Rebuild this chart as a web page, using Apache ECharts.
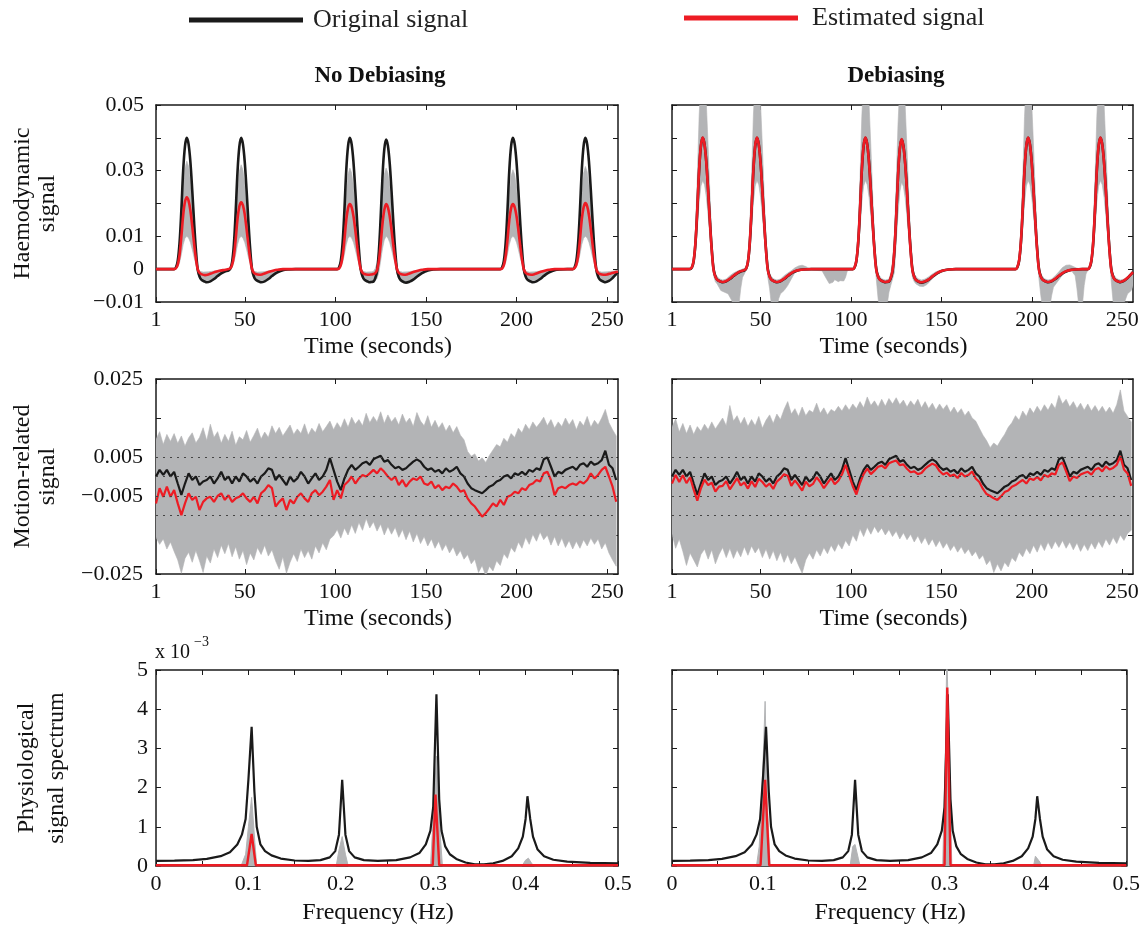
<!DOCTYPE html>
<html><head><meta charset="utf-8">
<script src="https://cdn.jsdelivr.net/npm/echarts@6/dist/echarts.min.js"></script>
<style>html,body{margin:0;padding:0;background:#fff}#c{width:1143px;height:928px}</style>
</head><body><div id="c"></div>
<script>
// ---------- tick labels ----------
const timeTicks = [1, 50, 100, 150, 200, 250];
const timeTickLabels = ['1', '50', '100', '150', '200', '250'];
const haemoYTicks = [-10, 0, 10, 20, 30, 40, 50];            // x 1e-3
const haemoYLabelValues = [-10, 0, 10, 30, 50];
const haemoYLabels = ['\u22120.01', '0', '0.01', '0.03', '0.05'];
const motionYTicks = [-25, -15, -5, 5, 15, 25];              // x 1e-3
const motionYLabelValues = [-25, -5, 5, 25];
const motionYLabels = ['\u22120.025', '\u22120.005', '0.005', '0.025'];
const motionGridLines = [5, 0, -5, -10];
const freqTicks = [0, 0.05, 0.1, 0.15, 0.2, 0.25, 0.3, 0.35, 0.4, 0.45, 0.5];
const freqLabelValues = [0, 0.1, 0.2, 0.3, 0.4, 0.5];
const freqLabels = ['0', '0.1', '0.2', '0.3', '0.4', '0.5'];
const spectrumYTicks = [0, 1, 2, 3, 4, 5];                   // x 1e-3
const spectrumYLabels = ['0', '1', '2', '3', '4', '5'];

// ---------- haemodynamic signal (x 1e-3), [time, value] ----------
const haemoOriginal = [[1,0],[11,0],[12,0.5],[13,2.5],[14,8],[15,18],[16,30],[17,37.5],[18,40],[19,38],[20,32.5],[21,24],[22,14.5],[23,6],[24,0],[25,-2.2],[26,-3.2],[28,-3.8],[29,-4],[31,-3.7],[33,-3],[35,-2.1],[37,-1.3],[39,-0.7],[41,-0.4],[42,0.1],[43,2.1],[44,7.6],[45,17.7],[46,29.7],[47,37.3],[48,40],[49,38],[50,32.5],[51,24],[52,14.5],[53,6],[54,0],[55,-2.2],[56,-3.2],[58,-3.8],[59,-4],[61,-3.7],[63,-3],[65,-2.1],[67,-1.3],[69,-0.7],[71,-0.3],[74,-0.1],[78,0],[101,0],[102,0.5],[103,2.5],[104,8],[105,18],[106,30],[107,37.5],[108,40],[109,38],[110,32.5],[111,24],[112,14.5],[113,6],[114,0],[115,-2.2],[116,-3.2],[118,-3.8],[119,-4],[120,-3.9],[121,-3.8],[122,-2.8],[123,-0.6],[124,5.3],[125,15.7],[126,28],[127,36.5],[128,39.5],[129,37.6],[130,32.2],[131,23.8],[132,14.3],[133,5.9],[134,-0.1],[135,-2.3],[136,-3.3],[138,-4],[139,-4.1],[141,-3.8],[143,-3.2],[145,-2.3],[147,-1.5],[149,-0.9],[151,-0.4],[154,-0.1],[158,0],[191,0],[192,0.5],[193,2.5],[194,8],[195,18],[196,30],[197,37.5],[198,40],[199,38],[200,32.5],[201,24],[202,14.5],[203,6],[204,0],[205,-2.2],[206,-3.2],[208,-3.8],[209,-4],[211,-3.7],[213,-3],[215,-2.1],[217,-1.3],[219,-0.7],[221,-0.3],[224,-0.1],[228,0],[231,0],[232,0.5],[233,2.5],[234,8],[235,18],[236,30],[237,37.5],[238,40],[239,38],[240,32.5],[241,24],[242,14.5],[243,6],[244,0],[245,-2.2],[246,-3.2],[248,-3.8],[249,-4],[251,-3.6],[253,-2.7],[255,-1.5],[256,-0.9]];
const haemoEstLeft = [[1,0],[11,0],[12,0.3],[13,1.4],[14,4.4],[15,9.9],[16,16.4],[17,20.5],[18,21.9],[19,20.8],[20,17.8],[21,13.1],[22,7.9],[23,3.3],[24,0],[25,-1.1],[26,-1.5],[28,-1.8],[30,-1.6],[32,-1.2],[34,-0.8],[36,-0.5],[38,-0.3],[40,-0.1],[42,0.3],[43,1.3],[44,4.1],[45,9.2],[46,15.3],[47,19.1],[48,20.4],[49,19.4],[50,16.6],[51,12.2],[52,7.4],[53,3.1],[54,0],[55,-1.1],[56,-1.5],[58,-1.7],[60,-1.5],[62,-1.1],[64,-0.7],[66,-0.4],[68,-0.2],[71,0],[101,0],[102,0.2],[103,1.2],[104,4],[105,8.9],[106,14.9],[107,18.6],[108,19.8],[109,18.8],[110,16.1],[111,11.9],[112,7.2],[113,3],[114,0],[115,-1.1],[116,-1.5],[118,-1.7],[120,-1.6],[121,-1.5],[122,-1.2],[123,-0.3],[124,2.5],[125,7.6],[126,13.8],[127,18],[128,19.8],[129,18.8],[130,16.1],[131,11.9],[132,7.2],[133,3],[134,0],[135,-1.1],[136,-1.5],[138,-1.7],[140,-1.5],[142,-1.1],[144,-0.7],[146,-0.4],[148,-0.2],[151,0],[191,0],[192,0.2],[193,1.2],[194,4],[195,8.9],[196,14.9],[197,18.6],[198,19.8],[199,18.8],[200,16.1],[201,11.9],[202,7.2],[203,3],[204,0],[205,-1.1],[206,-1.5],[208,-1.7],[210,-1.5],[212,-1.1],[214,-0.7],[216,-0.4],[218,-0.2],[221,0],[231,0],[232,0.3],[233,1.3],[234,4],[235,9],[236,15.1],[237,18.8],[238,20.1],[239,19.1],[240,16.3],[241,12.1],[242,7.3],[243,3],[244,0],[245,-1.1],[246,-1.5],[248,-1.7],[250,-1.6],[252,-1.3],[254,-1],[256,-0.8]];
const haemoUpperLeft = [[1,0.1],[11,0.1],[12,0.4],[13,2.1],[14,6.6],[15,14.8],[16,24.7],[17,30.8],[18,32.9],[19,31.3],[20,26.7],[21,19.7],[22,11.9],[23,4.9],[24,0.2],[25,-0.6],[27,-0.9],[30,-0.8],[34,-0.5],[38,-0.2],[41,0],[42,0.4],[43,2],[44,6.4],[45,14.3],[46,23.9],[47,29.8],[48,31.8],[49,30.2],[50,25.8],[51,19.1],[52,11.5],[53,4.8],[54,0.2],[55,-0.6],[57,-0.9],[60,-0.8],[64,-0.5],[68,-0.2],[72,0.1],[101,0.1],[102,0.4],[103,1.9],[104,6.2],[105,13.9],[106,23.1],[107,28.9],[108,30.8],[109,29.3],[110,25],[111,18.5],[112,11.2],[113,4.6],[114,0.2],[115,-0.6],[117,-0.9],[120,-0.8],[121,-0.7],[122,0.2],[123,1.9],[124,6.2],[125,13.9],[126,23.1],[127,28.9],[128,30.8],[129,29.3],[130,25],[131,18.5],[132,11.2],[133,4.6],[134,0.2],[135,-0.6],[137,-0.9],[140,-0.8],[144,-0.5],[148,-0.2],[152,0.1],[191,0.1],[192,0.4],[193,1.9],[194,6.1],[195,13.6],[196,22.7],[197,28.4],[198,30.3],[199,28.8],[200,24.6],[201,18.2],[202,11],[203,4.5],[204,0.2],[205,-0.6],[207,-0.9],[210,-0.8],[214,-0.5],[218,-0.2],[222,0.1],[231,0.1],[232,0.4],[233,2],[234,6.3],[235,14.1],[236,23.5],[237,29.3],[238,31.3],[239,29.7],[240,25.4],[241,18.8],[242,11.3],[243,4.7],[244,0.2],[245,-0.6],[247,-0.9],[250,-0.8],[253,-0.6],[256,-0.3]];
const haemoLowerLeft = [[1,-0.1],[11,-0.1],[12,0.1],[13,0.6],[14,2],[15,4.5],[16,7.5],[17,9.4],[18,10],[19,9.5],[20,8.1],[21,6],[22,3.6],[23,1.5],[24,-1.5],[25,-2.8],[27,-3.6],[29,-3.6],[31,-3.3],[33,-2.7],[35,-2],[37,-1.3],[39,-0.8],[41,-0.4],[42,0],[43,0.6],[44,2],[45,4.5],[46,7.5],[47,9.4],[48,10],[49,9.5],[50,8.1],[51,6],[52,3.6],[53,1.5],[54,-1.5],[55,-2.8],[57,-3.6],[59,-3.6],[61,-3.3],[63,-2.7],[65,-2],[67,-1.3],[69,-0.8],[72,-0.3],[76,-0.1],[101,-0.1],[102,0.1],[103,0.6],[104,2],[105,4.5],[106,7.5],[107,9.4],[108,10],[109,9.5],[110,8.1],[111,6],[112,3.6],[113,1.5],[114,-1.5],[115,-2.8],[117,-3.6],[119,-3.7],[121,-3.6],[122,-3.4],[123,-2.8],[124,-1],[125,2.5],[126,6.2],[127,8.9],[128,10],[129,9.5],[130,8.1],[131,6],[132,3.6],[133,1.5],[134,-1.5],[135,-2.8],[137,-3.7],[139,-3.8],[141,-3.5],[143,-2.9],[145,-2.2],[147,-1.5],[149,-0.9],[152,-0.4],[156,-0.1],[191,-0.1],[192,0.1],[193,0.6],[194,2],[195,4.5],[196,7.5],[197,9.4],[198,10],[199,9.5],[200,8.1],[201,6],[202,3.6],[203,1.5],[204,-1.5],[205,-2.8],[207,-3.6],[209,-3.6],[211,-3.3],[213,-2.7],[215,-2],[217,-1.3],[219,-0.8],[222,-0.3],[226,-0.1],[231,-0.1],[232,0.1],[233,0.6],[234,2],[235,4.5],[236,7.5],[237,9.4],[238,10],[239,9.5],[240,8.1],[241,6],[242,3.6],[243,1.5],[244,-1.5],[245,-2.8],[247,-3.6],[249,-3.6],[251,-3.3],[253,-2.6],[256,-1.4]];
const haemoEstRight = [[1,0],[10,0],[11,0.1],[12,0.6],[13,2.7],[14,8.4],[15,18.5],[16,30.4],[17,37.7],[18,40.1],[19,37.9],[20,32.2],[21,23.6],[22,14],[23,5.6],[24,-0.3],[25,-2.3],[26,-3.2],[28,-3.8],[29,-3.9],[31,-3.6],[33,-2.9],[35,-2],[37,-1.2],[39,-0.6],[41,-0.3],[42,0.2],[43,2.3],[44,8],[45,18.2],[46,30.1],[47,37.6],[48,40.1],[49,37.9],[50,32.2],[51,23.6],[52,14],[53,5.6],[54,-0.3],[55,-2.3],[56,-3.2],[58,-3.8],[59,-3.9],[61,-3.6],[63,-2.9],[65,-2],[67,-1.2],[69,-0.6],[71,-0.3],[74,-0.1],[78,0],[101,0],[102,0.6],[103,2.7],[104,8.4],[105,18.5],[106,30.4],[107,37.7],[108,40.1],[109,37.9],[110,32.2],[111,23.6],[112,14],[113,5.6],[114,-0.3],[115,-2.3],[116,-3.2],[118,-3.8],[119,-3.9],[120,-3.8],[121,-3.7],[122,-2.6],[123,-0.3],[124,5.7],[125,16.1],[126,28.3],[127,36.6],[128,39.6],[129,37.4],[130,31.8],[131,23.3],[132,13.8],[133,5.4],[134,-0.4],[135,-2.4],[136,-3.3],[138,-3.9],[139,-4],[141,-3.7],[143,-3.1],[145,-2.2],[147,-1.4],[149,-0.8],[151,-0.4],[154,-0.1],[158,0],[191,0],[192,0.6],[193,2.7],[194,8.4],[195,18.5],[196,30.4],[197,37.7],[198,40.1],[199,37.9],[200,32.2],[201,23.6],[202,14],[203,5.6],[204,-0.3],[205,-2.3],[206,-3.2],[208,-3.8],[209,-3.9],[211,-3.6],[213,-2.9],[215,-2],[217,-1.2],[219,-0.6],[221,-0.3],[224,-0.1],[228,0],[231,0],[232,0.6],[233,2.7],[234,8.4],[235,18.5],[236,30.4],[237,37.7],[238,40.1],[239,37.9],[240,32.2],[241,23.6],[242,14],[243,5.6],[244,-0.3],[245,-2.3],[246,-3.2],[248,-3.8],[249,-3.9],[251,-3.5],[253,-2.6],[255,-1.5],[256,-0.9]];
const haemoUpperRight = [[1,0.1],[11,0.1],[12,0.8],[13,3.9],[14,12.4],[15,27.9],[16,46.5],[17,58.1],[18,62],[19,58.9],[20,50.4],[21,37.2],[22,22.5],[23,9.3],[24,1.5],[25,-1.5],[27,-2.9],[29,-3.3],[31,-3],[33,-2],[35,-1.2],[37,-0.6],[39,-0.2],[41,0.3],[42,0.8],[43,3.9],[44,12.4],[45,27.9],[46,46.5],[47,58.1],[48,62],[49,58.9],[50,50.4],[51,37.2],[52,22.5],[53,9.3],[54,1.5],[55,-1.5],[57,-2.9],[59,-3.3],[61,-3],[63,-2],[65,-1.2],[67,-0.5],[69,0.4],[71,1],[73,1.2],[75,0.8],[77,0.2],[80,0.1],[101,0.1],[102,0.8],[103,3.9],[104,12.4],[105,27.9],[106,46.5],[107,58.1],[108,62],[109,58.9],[110,50.4],[111,37.2],[112,22.5],[113,9.3],[114,1.5],[115,-1.5],[117,-2.9],[119,-3.3],[121,-3],[122,-1.2],[123,2.5],[124,10.5],[125,25.5],[126,44],[127,56],[128,61],[129,58],[130,49.5],[131,36.5],[132,22],[133,9],[134,1.2],[135,-1.5],[137,-2.9],[139,-3.3],[141,-3],[143,-2.3],[145,-1.5],[147,-0.8],[150,-0.2],[155,0.1],[191,0.1],[192,0.8],[193,3.9],[194,12.4],[195,27.9],[196,46.5],[197,58.1],[198,62],[199,58.9],[200,50.4],[201,37.2],[202,22.5],[203,9.3],[204,1.5],[205,-1.5],[207,-2.9],[209,-3.3],[211,-3],[213,-2],[215,-0.8],[217,0.5],[219,1.2],[221,1.3],[223,0.8],[225,0.3],[228,0.1],[231,0.1],[232,0.8],[233,3.9],[234,12.4],[235,27.9],[236,46.5],[237,58.1],[238,62],[239,58.9],[240,50.4],[241,37.2],[242,22.5],[243,9.3],[244,1.5],[245,-1.5],[247,-2.9],[249,-3.3],[251,-3],[253,-2.3],[255,-1.6],[256,-1.2]];
const haemoLowerRight = [[1,-0.1],[11,-0.1],[12,0.3],[13,1.7],[14,5.4],[15,12.2],[16,20.3],[17,25.3],[18,27],[19,25.7],[20,21.9],[21,16.2],[22,9.8],[23,4],[24,-2],[25,-3.8],[26,-4.5],[27,-5.5],[28,-6.5],[30,-7],[32,-7.5],[34,-9.5],[35,-11],[36,-13],[37,-13],[38,-11],[39,-6],[40,-2.5],[41,-1.5],[42,-0.3],[43,1.7],[44,5.4],[45,12.2],[46,20.3],[47,25.3],[48,27],[49,25.7],[50,21.9],[51,16.2],[52,9.8],[53,4],[54,-2.5],[55,-6],[56,-11],[57,-14],[58,-14],[59,-12],[60,-9],[61,-7.5],[63,-6.5],[65,-5],[67,-3],[69,-1],[71,-0.3],[74,-0.1],[84,-0.5],[86,-2.5],[88,-4.4],[90,-4],[91,-3.2],[93,-3.8],[94,-3.5],[96,-3.6],[97,-2.5],[98,-0.5],[100,-0.1],[101,-0.1],[102,0.3],[103,1.7],[104,5.4],[105,12.2],[106,20.3],[107,25.3],[108,27],[109,25.7],[110,21.9],[111,16.2],[112,9.8],[113,4],[114,-3],[115,-9],[116,-12.5],[117,-14],[118,-14],[119,-13],[120,-11],[121,-7],[122,-5],[123,-3],[124,-1],[125,8],[126,16.5],[127,23.5],[128,26.5],[129,25.2],[130,21.5],[131,15.8],[132,9.4],[133,3.6],[134,-2.5],[135,-3.8],[136,-4.5],[138,-5.2],[140,-5.3],[142,-4.7],[144,-3.5],[146,-2.4],[148,-1.5],[150,-0.8],[153,-0.3],[157,-0.1],[191,-0.1],[192,0.3],[193,1.7],[194,5.4],[195,12.2],[196,20.3],[197,25.3],[198,27],[199,25.7],[200,21.9],[201,16.2],[202,9.8],[203,4],[204,-3],[205,-8],[206,-12],[207,-14],[208,-14],[209,-13],[210,-11.5],[211,-8],[212,-5.5],[214,-4],[216,-2.5],[218,-1.2],[220,-0.6],[222,-0.5],[224,-2],[225,-6],[226,-11],[227,-13],[228,-11],[229,-5],[230,-1.5],[231,-0.3],[232,0.3],[233,1.7],[234,5.4],[235,12.2],[236,20.3],[237,25.3],[238,27],[239,25.7],[240,21.9],[241,16.2],[242,9.8],[243,4],[244,-4],[245,-10],[246,-13],[247,-14],[248,-14],[249,-13.5],[250,-12],[251,-10.5],[252,-9],[253,-7.5],[254,-7],[255,-6.5],[256,-5]];

// ---------- motion-related signal (x 1e-3), sampled at t = 1,3,...,255 ----------
const motionTime = Array.from({length: 128}, (_, i) => 1 + 2 * i);
const motionOriginal = [0,1.7,0.4,1.7,0,1.2,-1.8,-4.7,-1.8,0.8,-0.9,0,-2.2,-1.3,-0.9,0,-1.8,-0.5,1.2,-0.9,0,-1.8,0,-1.3,0.8,0,-1.3,-0.5,-1.8,0,0.8,2.1,1.7,-0.9,0.4,-0.9,-2.2,0,-1.3,-0.5,1.2,0,-1.8,-0.5,0.8,-0.9,0,1.7,4.7,1.7,-1.3,-3.5,-0.5,1.7,3,1.7,2.5,3.4,3.8,3,4.4,4.9,5.3,3.8,4.2,3,2.1,2.5,1.7,2.1,3,3.8,4.4,3.8,2.5,1.7,2.1,1.2,1.7,0.8,2.1,1.2,1.7,2.5,0.8,0,-1.8,-3,-3.5,-3.9,-4.3,-3.5,-2.6,-2.2,-1.3,-0.9,0,0.4,-0.5,0.8,0.4,1.2,0.4,1.7,1.2,2.1,1.7,4.4,4.9,2.5,0,1.2,0.8,1.7,2.1,2.5,1.7,3,3.4,2.5,3.8,3,3.4,4.2,6.6,3,2.1,-0.9];
const motionEstLeft = [-6.9,-3,-5.2,-2.6,-5.2,-3.5,-6.9,-9.9,-6.9,-4.3,-6,-5.2,-8.6,-6.5,-5.6,-5.2,-6.5,-5,-4.3,-6,-4.8,-6.5,-5.6,-5.2,-4.3,-5.6,-6.5,-5.2,-6.9,-4.3,-3.5,-2.2,-3,-7.7,-6.5,-5.6,-8.6,-6,-6.9,-5.2,-4.3,-5.6,-6.5,-4.3,-3.5,-4.8,-3.9,-2.6,-0.9,-6,-3.5,-5.6,-2.2,-1.3,0,-1.8,-0.5,0.4,0,0.8,1.7,0.8,2.1,1.2,0,-0.9,0,-2.2,-0.9,-2.6,-1.3,-0.5,-0.9,0,-1.8,-2.2,-1.3,-3,-2.2,-3.5,-2.6,-3,-1.8,-2.6,-3.9,-3.5,-5.6,-6.9,-7.7,-9,-10.3,-9.4,-8.2,-6.9,-7.7,-6,-7.3,-5.2,-4.8,-3.9,-4.3,-3,-3.5,-2.2,-1.8,-0.9,-1.3,0.8,1.2,-0.9,-4.8,-3,-2.6,-3,-2.2,-1.8,-2.2,-1.3,-1.8,-0.9,0.8,-0.5,0.4,1.7,2.5,0,-2.6,-6.5];
const motionEstRight = [-1.8,0.4,-1.4,0.3,-1.7,-0.2,-3.4,-6.2,-3,-0.8,-2.2,-1.6,-3.9,-2.6,-2.4,-1.2,-3.3,-1.9,-0.4,-2.3,-1.5,-3.1,-1.2,-2.7,-0.6,-1.4,-2.6,-1.8,-3.2,-1.3,-0.5,0.6,0.2,-2.4,-1,-2.2,-3.6,-1.3,-2.5,-1.9,-0.2,-1.4,-3,-1.7,-0.4,-2,-1.1,0.5,3,0.2,-2.5,-4.6,-1.6,0.6,2,0.6,1.5,2.5,2.8,2.1,3.4,3.8,4.1,2.9,3.1,2,1.1,1.3,0.6,0.9,2,2.7,3.3,2.8,1.4,0.5,1,0.1,0.5,-0.4,0.9,0,0.4,1.3,-0.5,-1.4,-3.2,-4.5,-5,-5.6,-6,-5.1,-4,-3.6,-2.6,-2.2,-1.5,-0.9,-1.8,-0.5,-0.9,-0.1,-1,0.4,-0.1,0.8,0.5,3,3.6,1.3,-1.2,0,-0.4,0.5,0.9,1.2,0.5,1.8,2.2,1.3,2.6,1.8,2.2,3,5.2,1.8,0.8,-2.4];
const motionUpperLeft = [9.5,11.5,8.2,10.8,9,11,8.5,10.4,7.8,9.9,11.2,8.6,10,12.5,9.2,13.4,10,11.5,8.5,10.8,9,11.6,8,10.2,9.4,11.8,8.8,10.5,12.4,9.6,11.4,10,13,11,12.6,10.4,11.8,13.2,10.8,12.2,11,13.5,10.6,12.4,11.2,13.6,11.5,12.8,14.2,12,13.8,12.4,14.8,12.6,15.2,13.4,14.6,13,16.2,13.8,15.4,14,16.6,13.6,15.8,14,15.2,13.2,16,13.8,15,12.8,16.4,14.2,13,15.6,12.6,14.4,12.4,13.8,11.6,13.2,11.2,12.8,10.6,9.4,6.4,5.2,5.8,4,4.8,3.6,5.4,6.8,8.2,7.6,9.8,8.8,11,10,12.4,11.2,13.4,12,14,12.6,13.8,15.2,13,14.6,12.4,14,12.8,15,13.2,14.6,12,14.2,13,15.4,12.6,14.4,13.2,15,17.2,13.8,12,10.4];
const motionLowerLeft = [-15.6,-17.4,-16,-18.6,-16.8,-19.2,-21.4,-24.8,-21,-19.4,-22,-19,-21.6,-24.6,-20.4,-22.2,-18.6,-20.8,-17.6,-19.8,-17.2,-20.6,-18,-21.2,-19,-22.6,-19.6,-21.4,-18.2,-20,-17.6,-20.4,-18.8,-21.6,-23.8,-20.6,-24.8,-22,-19.8,-21.8,-18.6,-20.8,-19,-21.2,-17.8,-19.6,-17,-18.8,-16,-15.2,-13.6,-15.8,-13.2,-15,-12.4,-14.6,-11.8,-13.8,-10.8,-13.2,-11.6,-14,-12.2,-15,-12.8,-14.8,-13,-15.6,-13.6,-16.2,-14,-16.8,-14.6,-17.2,-15.4,-17.8,-16,-18.4,-16.6,-19,-17.4,-19.6,-18,-20.4,-19,-21.2,-20,-22.4,-21.2,-24.6,-22.8,-25.5,-23,-24.2,-21.6,-22.8,-19.8,-21,-18.2,-19.4,-16.8,-18.4,-15.6,-17.4,-14.8,-16.6,-14.2,-16.2,-15,-17.6,-15.4,-17.8,-15.8,-18.2,-16.4,-18.6,-16.6,-18.4,-16.2,-17.8,-15.8,-17.4,-16,-18.6,-17,-19.6,-21.4,-23];
const motionUpperRight = [12.6,14.8,11.4,13.6,11,13.2,10.8,12.8,11.6,13.4,12,14,12.2,13.6,15,13,18.2,14.2,15.6,13.4,15.2,12.8,14.6,13,15.4,12.4,14.4,15.8,13.6,16,14.6,17.2,19.2,16,17.4,15.4,17.8,15.6,17,16.4,18.8,16.2,17.6,15.8,17.2,16.6,18,16.8,18.4,17,18.6,17.4,19.2,17.6,20.4,18.2,19.4,17.8,19.8,18,20,18.6,20.2,18.4,19.6,17.8,19.4,18.2,19.8,17.6,19.2,17.4,18.8,17,18.6,17.2,18.4,16.4,17.8,16.2,17.4,15.6,16.8,15,14.2,12.4,10.6,9.2,7.4,8.6,7.8,9.4,10.8,12.6,13.8,15.6,14.4,16.8,15.4,17.6,16.2,18,16.6,18.4,17,18.8,17.4,20.8,18.6,19.8,17.8,19.2,17.4,18.8,17,18.6,16.8,18.2,16.6,18,16.4,17.8,16.2,18.4,22.2,16.8,15.4,14];
const motionLowerRight = [-14.6,-18.4,-16,-19.2,-22.8,-19.6,-21.4,-23.2,-20,-18.6,-21.2,-18.8,-22.4,-20,-18.2,-20.8,-18.4,-21,-18.8,-20.6,-18,-20.2,-17.8,-19.6,-18.2,-20.8,-18.6,-21.2,-19,-21.6,-19.4,-22,-20,-22.4,-20.6,-22.8,-24.8,-21.4,-19.6,-21.2,-18.8,-20.4,-18.2,-19.8,-17.6,-19.2,-17.2,-18.6,-16.4,-17.8,-15,-16.6,-13.4,-15.4,-13,-14.8,-12.8,-14.4,-13.2,-15,-13.6,-15.4,-14,-16,-14.4,-16.2,-14.8,-16.8,-15.2,-17.2,-15.6,-17.6,-16,-18,-16.4,-18.4,-17,-19,-17.6,-19.4,-18,-19.8,-18.6,-20.4,-19.2,-21.2,-20.2,-22.6,-21.4,-24.6,-22.4,-24.2,-22,-23.2,-20.8,-21.8,-19.4,-20.6,-18.4,-19.8,-17.6,-19.4,-17.2,-19,-16.8,-18.6,-16.6,-18.2,-16.4,-18.4,-16.8,-18.8,-17,-19.2,-17.4,-19,-17,-18.6,-16.6,-18.2,-16,-17.6,-15.6,-17.2,-15,-16.4,-14.6,-13.8];

// ---------- physiological signal spectrum (x 1e-3), [frequency, value] ----------
const spectrumOriginal = [[0,0.13],[0.02,0.135],[0.04,0.15],[0.055,0.18],[0.07,0.25],[0.08,0.35],[0.088,0.55],[0.093,0.8],[0.097,1.2],[0.1,2.2],[0.1035,3.55],[0.1065,1.9],[0.109,1.0],[0.113,0.55],[0.118,0.38],[0.125,0.27],[0.135,0.19],[0.15,0.14],[0.165,0.13],[0.178,0.15],[0.188,0.22],[0.194,0.38],[0.198,0.8],[0.2015,2.2],[0.205,0.8],[0.209,0.38],[0.215,0.22],[0.225,0.15],[0.24,0.13],[0.26,0.15],[0.275,0.22],[0.285,0.33],[0.292,0.55],[0.297,0.9],[0.3,1.5],[0.3035,4.38],[0.3065,1.7],[0.309,0.9],[0.313,0.5],[0.318,0.3],[0.325,0.18],[0.335,0.09],[0.345,0.04],[0.355,0.04],[0.365,0.07],[0.375,0.13],[0.385,0.25],[0.392,0.45],[0.397,0.75],[0.4,1.2],[0.402,1.78],[0.405,1.2],[0.408,0.75],[0.413,0.42],[0.42,0.25],[0.43,0.16],[0.445,0.11],[0.47,0.08],[0.5,0.07]];
const spectrumEstLeft = [[0,0.02],[0.0985,0.02],[0.1035,0.82],[0.108,0.02],[0.2995,0.02],[0.3025,1.82],[0.3065,0.02],[0.5,0.02]];
const spectrumGrayLeft = [[0,0],[0.092,0],[0.097,0.3],[0.1,1.0],[0.1035,1.75],[0.107,0.6],[0.109,0],[0.195,0],[0.198,0.4],[0.2015,0.75],[0.205,0.3],[0.208,0],[0.297,0],[0.3,1.2],[0.3035,2.8],[0.307,1.0],[0.31,0],[0.396,0],[0.4,0.15],[0.403,0.2],[0.407,0.05],[0.41,0],[0.5,0]];
const spectrumEstRight = [[0,0.02],[0.0975,0.02],[0.1025,2.2],[0.107,0.02],[0.3,0.02],[0.303,4.55],[0.3065,0.02],[0.5,0.02]];
const spectrumGrayRight = [[0,0],[0.093,0],[0.096,0.5],[0.1,2.5],[0.1025,4.2],[0.105,1.5],[0.108,0],[0.196,0],[0.199,0.5],[0.2015,0.55],[0.205,0.2],[0.207,0],[0.298,0],[0.301,3.0],[0.3025,5.5],[0.305,3.0],[0.308,0],[0.398,0],[0.4,0.25],[0.402,0.3],[0.405,0.1],[0.407,0],[0.5,0]];

// ---------- styling ----------
const FONT = 'Liberation Serif';
const AX = '#1a1a1a';
const BLACK = '#1a1a1a';
const RED = '#ed1c24';
const GRAY = '#b3b4b6';
const TXT = '#111';

const zip = (xs, ys) => xs.map((x, i) => [x, ys[i]]);
const pick = (vals, labels) => v => { const i = vals.findIndex(x => Math.abs(x - v) < 1e-9); return i >= 0 ? labels[i] : ''; };

const grids = [
  {left: 156, top: 105, width: 462, height: 197},
  {left: 672, top: 105, width: 461, height: 197},
  {left: 156, top: 379, width: 462, height: 195},
  {left: 672, top: 379, width: 461, height: 195},
  {left: 156, top: 670, width: 462, height: 196},
  {left: 672, top: 670, width: 461, height: 196}
];

function tick(values) {
  return {show: true, inside: true, length: 5, customValues: values, lineStyle: {color: AX, width: 1}};
}
function line() { return {show: true, onZero: false, lineStyle: {color: AX, width: 1.5}}; }

const xAxis = [], yAxis = [];
grids.forEach((g, gi) => {
  const row = Math.floor(gi / 2);
  const isTime = row < 2;
  const xt = isTime ? timeTicks : freqTicks;
  const xb = {
    gridIndex: gi, type: 'value', position: 'bottom',
    min: isTime ? 1 : 0, max: isTime ? 256 : 0.5,
    axisLine: line(), axisTick: tick(xt), splitLine: {show: false},
    axisLabel: {
      show: true, margin: 7, fontSize: 22, fontFamily: FONT, color: TXT,
      customValues: isTime ? timeTicks : freqLabelValues,
      formatter: isTime ? pick(timeTicks, timeTickLabels) : pick(freqLabelValues, freqLabels)
    },
    name: isTime ? 'Time (seconds)' : 'Frequency (Hz)',
    nameLocation: 'middle', nameGap: isTime ? 33 : 35,
    nameTextStyle: {fontSize: 24, fontFamily: FONT, color: TXT, padding: [0, 18, 0, 0]}
  };
  const xtop = {
    gridIndex: gi, type: 'value', position: 'top',
    min: isTime ? 1 : 0, max: isTime ? 256 : 0.5,
    axisLine: line(), axisTick: tick(xt), splitLine: {show: false}, axisLabel: {show: false}
  };
  xAxis.push(xb, xtop);

  const yt = row === 0 ? haemoYTicks : row === 1 ? motionYTicks : spectrumYTicks;
  const ymin = row === 0 ? -10 : row === 1 ? -25 : 0;
  const ymax = row === 0 ? 50 : row === 1 ? 25 : 5;
  const isLeft = gi % 2 === 0;
  const yl = {
    gridIndex: gi, type: 'value', position: 'left', min: ymin, max: ymax,
    axisLine: line(), axisTick: tick(yt), splitLine: {show: false},
    axisLabel: {
      show: isLeft, fontSize: 22, fontFamily: FONT, color: TXT,
      margin: row === 0 ? 12 : row === 1 ? 13 : 8,
      customValues: row === 0 ? haemoYLabelValues : row === 1 ? motionYLabelValues : spectrumYTicks,
      formatter: row === 0 ? pick(haemoYLabelValues, haemoYLabels) : row === 1 ? pick(motionYLabelValues, motionYLabels) : pick(spectrumYTicks, spectrumYLabels)
    }
  };
  if (isLeft) {
    yl.name = row === 0 ? 'Haemodynamic\nsignal' : row === 1 ? 'Motion-related\nsignal' : 'Physiological\nsignal spectrum';
    yl.nameLocation = 'middle';
    yl.nameRotate = 90;
    yl.nameGap = row === 2 ? 84 : 96;
    yl.nameTextStyle = {fontSize: 24, fontFamily: FONT, color: TXT, lineHeight: row === 2 ? 30 : 25};
  }
  const yr = {
    gridIndex: gi, type: 'value', position: 'right', min: ymin, max: ymax,
    axisLine: line(), axisTick: tick(yt), splitLine: {show: false}, axisLabel: {show: false}
  };
  yAxis.push(yl, yr);
});

function band(gi, upper, lower) {
  return {
    type: 'custom', xAxisIndex: 2 * gi, yAxisIndex: 2 * gi, silent: true, z: 1, clip: true,
    data: [upper[0]],
    renderItem: function (params, api) {
      const pts = [];
      for (let i = 0; i < upper.length; i++) pts.push(api.coord(upper[i]));
      for (let i = lower.length - 1; i >= 0; i--) pts.push(api.coord(lower[i]));
      return {type: 'polygon', shape: {points: pts}, style: {fill: GRAY, stroke: GRAY, lineWidth: 0.6}};
    }
  };
}
function lineS(gi, name, data, color, width, z, smooth) {
  return {
    type: 'line', name: name, xAxisIndex: 2 * gi, yAxisIndex: 2 * gi, data: data,
    symbol: 'none', showSymbol: false, smooth: smooth || false, clip: true, silent: true, z: z,
    lineStyle: {color: color, width: width}, itemStyle: {color: color}
  };
}
function grayArea(gi, data) {
  return {
    type: 'line', xAxisIndex: 2 * gi, yAxisIndex: 2 * gi, data: data, symbol: 'none', showSymbol: false,
    silent: true, z: 1, clip: true,
    lineStyle: {color: GRAY, width: 1}, areaStyle: {color: GRAY, opacity: 1}, itemStyle: {color: GRAY}
  };
}
function dotted(gi) {
  return {
    type: 'line', xAxisIndex: 2 * gi, yAxisIndex: 2 * gi, data: [[1, 0]], symbol: 'none', showSymbol: false,
    silent: true, z: 2, lineStyle: {opacity: 0},
    markLine: {
      silent: true, symbol: ['none', 'none'], label: {show: false}, animation: false,
      lineStyle: {color: '#444', width: 1, type: [2, 5]},
      data: motionGridLines.map(v => ({yAxis: v}))
    }
  };
}

const series = [
  band(0, haemoUpperLeft, haemoLowerLeft),
  lineS(0, 'Original signal', haemoOriginal, BLACK, 2.6, 3, 0.35),
  lineS(0, 'Estimated signal', haemoEstLeft, RED, 2.6, 4, 0.35),
  band(1, haemoUpperRight, haemoLowerRight),
  lineS(1, 'Original signal', haemoOriginal, BLACK, 2.6, 3, 0.35),
  lineS(1, 'Estimated signal', haemoEstRight, RED, 2.6, 4, 0.35),
  band(2, zip(motionTime, motionUpperLeft), zip(motionTime, motionLowerLeft)),
  dotted(2),
  lineS(2, 'Original signal', zip(motionTime, motionOriginal), BLACK, 2.2, 3),
  lineS(2, 'Estimated signal', zip(motionTime, motionEstLeft), RED, 2.2, 4),
  band(3, zip(motionTime, motionUpperRight), zip(motionTime, motionLowerRight)),
  dotted(3),
  lineS(3, 'Original signal', zip(motionTime, motionOriginal), BLACK, 2.2, 3),
  lineS(3, 'Estimated signal', zip(motionTime, motionEstRight), RED, 2.2, 4),
  grayArea(4, spectrumGrayLeft),
  lineS(4, 'Original signal', spectrumOriginal, BLACK, 2.2, 3),
  lineS(4, 'Estimated signal', spectrumEstLeft, RED, 2.4, 4),
  grayArea(5, spectrumGrayRight),
  lineS(5, 'Original signal', spectrumOriginal, BLACK, 2.2, 3),
  lineS(5, 'Estimated signal', spectrumEstRight, RED, 2.4, 4)
];

const chart = echarts.init(document.getElementById('c'), null, {renderer: 'canvas'});
chart.setOption({
  animation: false,
  backgroundColor: '#fff',
  textStyle: {fontFamily: FONT},
  grid: grids.map(g => Object.assign({containLabel: false, show: false}, g)),
  xAxis: xAxis,
  yAxis: yAxis,
  legend: [
    {data: ['Original signal'], left: 184, top: 2, icon: 'rect', itemWidth: 114, itemHeight: 5, selectedMode: false,
     textStyle: {fontSize: 26, fontFamily: FONT, color: '#222', padding: [0, 0, 0, 5]}},
    {data: ['Estimated signal'], left: 679, top: 0, icon: 'rect', itemWidth: 114, itemHeight: 5, selectedMode: false,
     textStyle: {fontSize: 26, fontFamily: FONT, color: '#222', padding: [0, 0, 0, 9]}}
  ],
  graphic: [
    {type: 'text', x: 380, y: 76, style: {text: 'No Debiasing', font: 'bold 23px "Liberation Serif"', fill: TXT, textAlign: 'center', textVerticalAlign: 'middle'}},
    {type: 'text', x: 896, y: 76, style: {text: 'Debiasing', font: 'bold 23px "Liberation Serif"', fill: TXT, textAlign: 'center', textVerticalAlign: 'middle'}},
    {type: 'text', x: 155, y: 653, style: {text: 'x 10', font: '20px "Liberation Serif"', fill: TXT, textAlign: 'left', textVerticalAlign: 'middle'}},
    {type: 'text', x: 194, y: 642, style: {text: '\u22123', font: '14px "Liberation Serif"', fill: TXT, textAlign: 'left', textVerticalAlign: 'middle'}}
  ],
  series: series
});
</script></body></html>
